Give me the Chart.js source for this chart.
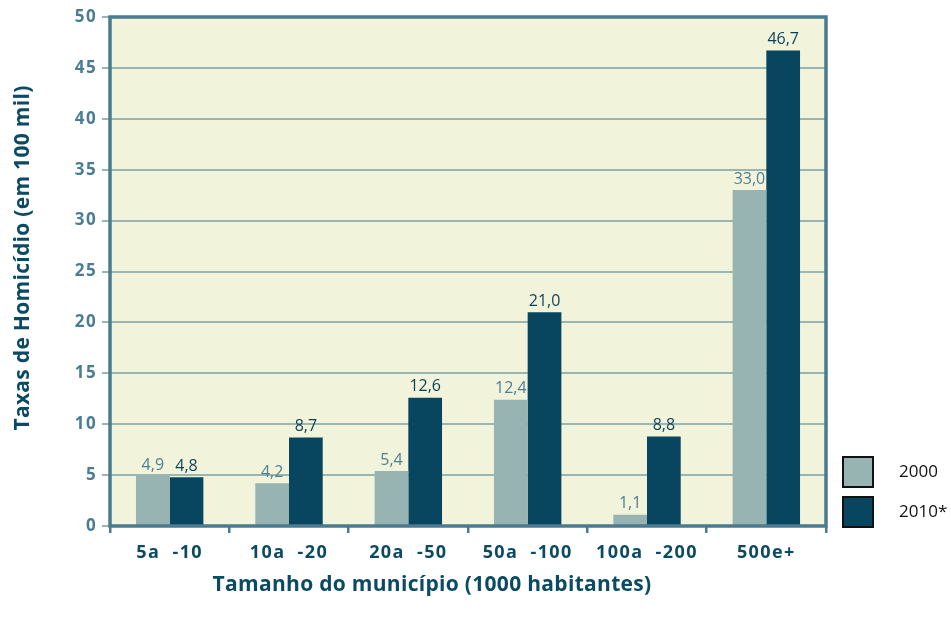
<!DOCTYPE html>
<html><head><meta charset="utf-8">
<script src="https://cdn.jsdelivr.net/npm/chart.js@4.4.0/dist/chart.umd.min.js"></script>
<style>html,body{margin:0;padding:0;background:#fff}#wrap{width:951px;height:628px}</style>
</head><body><div id="wrap"><canvas id="c" width="951" height="628"></canvas></div>
<script>
const categories = ['5a  -10', '10a  -20', '20a  -50', '50a  -100', '100a  -200', '500e+'];
const seriesNames = ['2000', '2010*'];
const values2000 = [4.9, 4.2, 5.4, 12.4, 1.1, 33.0];
const values2010 = [4.8, 8.7, 12.6, 21.0, 8.8, 46.7];
const yTicks = [0, 5, 10, 15, 20, 25, 30, 35, 40, 45, 50];
const yTitle = 'Taxas de Homicídio (em 100 mil)';
const xTitle = 'Tamanho do município (1000 habitantes)';

const FONT = '"Open Sans", "Noto Sans", sans-serif';
const labelColors = ['#4f7f93', '#0b3f57'];

const decor = {
  id: 'decor',
  beforeDraw(chart) {
    const {ctx, chartArea: a} = chart;
    ctx.save();
    ctx.fillStyle = '#f1f4db';
    ctx.fillRect(a.left, a.top, a.right - a.left, a.bottom - a.top);
    ctx.restore();
    ctx.letterSpacing = '1.4px';
  },
  beforeDatasetsDraw(chart) {
    chart.ctx.letterSpacing = '0px';
  },
  afterDatasetsDraw(chart) {
    const {ctx, chartArea: a} = chart;
    ctx.save();
    ctx.letterSpacing = '0px';
    // frame
    ctx.strokeStyle = '#4a7b90';
    ctx.lineWidth = 3.5;
    ctx.strokeRect(a.left, a.top, a.right - a.left, a.bottom - a.top);
    // value labels
    ctx.font = '16px ' + FONT;
    ctx.textAlign = 'center';
    ctx.textBaseline = 'bottom';
    chart.data.datasets.forEach((ds, i) => {
      const meta = chart.getDatasetMeta(i);
      ctx.fillStyle = labelColors[i];
      meta.data.forEach((bar, j) => {
        const t = ds.data[j].toFixed(1).replace('.', ',');
        ctx.fillText(t, bar.x, bar.y - 3);
      });
    });
    // legend
    ctx.font = '17px ' + FONT;
    ctx.textAlign = 'left';
    ctx.textBaseline = 'middle';
    const lx = a.right + 17;
    chart.data.datasets.forEach((ds, i) => {
      const n = chart.data.datasets.length;
      const y = a.bottom + 1 - (n - i) * 40 + 10;
      ctx.fillStyle = ds.backgroundColor;
      ctx.fillRect(lx, y, 30, 30);
      ctx.strokeStyle = '#111';
      ctx.lineWidth = 2;
      ctx.strokeRect(lx, y, 30, 30);
      ctx.fillStyle = '#111';
      ctx.fillText(ds.label, lx + 56, y + 15);
    });
    // axis titles
    ctx.fillStyle = '#0b4a63';
    ctx.font = 'bold 21px ' + FONT;
    ctx.letterSpacing = '0.3px';
    ctx.textAlign = 'center';
    ctx.textBaseline = 'middle';
    ctx.fillText(xTitle, 432, 585);
    ctx.translate(23, 258);
    ctx.rotate(-Math.PI / 2);
    ctx.fillText(yTitle, 0, 0);
    ctx.restore();
  }
};

new Chart(document.getElementById('c'), {
  type: 'bar',
  data: {
    labels: categories,
    datasets: [
      {label: seriesNames[0], data: values2000, backgroundColor: '#97b4b3', barPercentage: 1, categoryPercentage: 0.565},
      {label: seriesNames[1], data: values2010, backgroundColor: '#08465f', barPercentage: 1, categoryPercentage: 0.565}
    ]
  },
  options: {
    responsive: false,
    animation: false,
    devicePixelRatio: 1,
    layout: {padding: {left: 0, top: 17, right: 125, bottom: 0}},
    plugins: {legend: {display: false}, tooltip: {enabled: false}},
    scales: {
      x: {
        afterFit(s) { s.height = 102; },
        grid: {drawOnChartArea: false, drawTicks: true, tickLength: 7, color: '#4a7b90', lineWidth: 2.5, offset: true},
        border: {display: false},
        ticks: {color: '#0b4a63', font: {family: FONT, size: 18, weight: 'bold'}, padding: 9}
      },
      y: {
        min: 0, max: 50,
        afterFit(s) { s.width = 110; },
        afterBuildTicks(s) { s.ticks = yTicks.map(v => ({value: v})); },
        grid: {color: '#9ab6b3', lineWidth: 2, tickLength: 8, drawTicks: true},
        border: {display: false},
        ticks: {color: '#4a7d93', font: {family: FONT, size: 17, weight: 'bold'}, padding: 5}
      }
    }
  },
  plugins: [decor]
});
</script>
</body></html>
